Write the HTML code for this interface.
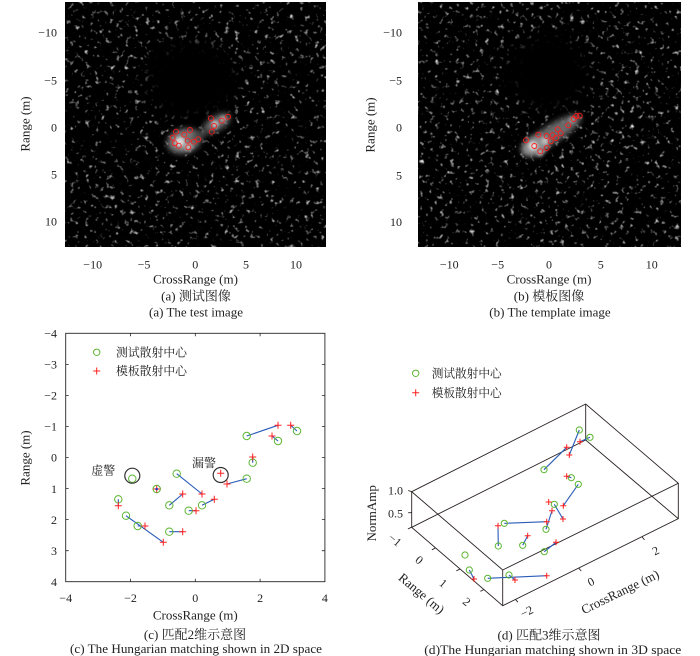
<!DOCTYPE html>
<html><head><meta charset="utf-8"><style>
html,body{margin:0;padding:0;background:#fff;}
svg{display:block;}
text{font-family:"Liberation Serif","Noto Serif CJK SC",serif;fill:#222;}
</style></head><body>
<svg width="700" height="656" viewBox="0 0 700 656" xmlns="http://www.w3.org/2000/svg">
<defs>
<filter id="nzA" x="0" y="0" width="1" height="1" color-interpolation-filters="sRGB">
<feTurbulence type="fractalNoise" baseFrequency="0.2" numOctaves="2" seed="7" result="t"/>
<feColorMatrix in="t" type="matrix" values="1 0 0 0 0 1 0 0 0 0 1 0 0 0 0 0 0 0 0 1" result="g"/>
<feComponentTransfer in="g"><feFuncR type="linear" slope="3" intercept="-1.82"/><feFuncG type="linear" slope="3" intercept="-1.82"/><feFuncB type="linear" slope="3" intercept="-1.82"/></feComponentTransfer>
</filter>
<filter id="nzB" x="0" y="0" width="1" height="1" color-interpolation-filters="sRGB">
<feTurbulence type="fractalNoise" baseFrequency="0.2" numOctaves="2" seed="21" result="t"/>
<feColorMatrix in="t" type="matrix" values="1 0 0 0 0 1 0 0 0 0 1 0 0 0 0 0 0 0 0 1" result="g"/>
<feComponentTransfer in="g"><feFuncR type="linear" slope="3" intercept="-1.82"/><feFuncG type="linear" slope="3" intercept="-1.82"/><feFuncB type="linear" slope="3" intercept="-1.82"/></feComponentTransfer>
</filter>
<filter id="b8" x="-50%" y="-50%" width="200%" height="200%"><feGaussianBlur stdDeviation="8"/></filter>
<filter id="b3" x="-50%" y="-50%" width="200%" height="200%"><feGaussianBlur stdDeviation="3"/></filter>
<filter id="b15" x="-50%" y="-50%" width="200%" height="200%"><feGaussianBlur stdDeviation="1.5"/></filter>
<clipPath id="cA"><rect x="65" y="2" width="261" height="245"/></clipPath>
<clipPath id="cB"><rect x="418" y="2" width="263" height="245"/></clipPath>
</defs>

<!-- ===== (a) test image ===== -->
<rect x="65" y="2" width="261" height="245" fill="#050505"/>
<rect x="65" y="2" width="261" height="245" filter="url(#nzA)"/>
<g clip-path="url(#cA)">
<ellipse cx="191" cy="80" rx="46" ry="42" fill="#050505" filter="url(#b8)"/>
<ellipse cx="184" cy="141" rx="17" ry="12" fill="#7a7a7a" filter="url(#b3)" transform="rotate(-15 184 141)"/>
<ellipse cx="217" cy="123" rx="15" ry="7" fill="#6a6a6a" filter="url(#b3)" transform="rotate(-30 217 123)"/>
<ellipse cx="200" cy="135" rx="10" ry="4" fill="#444" filter="url(#b3)" transform="rotate(-30 200 135)"/>
<circle cx="180" cy="142" r="5" fill="#d8d8d8" filter="url(#b15)"/>
<circle cx="188" cy="147" r="3.5" fill="#c0c0c0" filter="url(#b15)"/>
<circle cx="215" cy="124" r="3.5" fill="#c0c0c0" filter="url(#b15)"/>
<circle cx="223" cy="119" r="3" fill="#aaa" filter="url(#b15)"/>
</g>
<g fill="none" stroke="#ff1a1a" stroke-width="0.9">
<circle cx="176" cy="131.7" r="2.5"/><circle cx="172.7" cy="137.7" r="2.5"/><circle cx="174.7" cy="143.3" r="2.5"/>
<circle cx="178.7" cy="145.7" r="2.5"/><circle cx="184.3" cy="134.7" r="2.5"/><circle cx="190" cy="130" r="2.5"/>
<circle cx="187.7" cy="140.7" r="2.5"/><circle cx="188.3" cy="147.3" r="2.5"/><circle cx="194" cy="141.7" r="2.5"/>
<circle cx="198.3" cy="139.3" r="2.5"/><circle cx="211" cy="118.3" r="2.5"/><circle cx="214" cy="126" r="2.5"/>
<circle cx="211.7" cy="131.7" r="2.5"/><circle cx="221.7" cy="120.7" r="2.5"/><circle cx="228" cy="116.7" r="2.5"/>
</g>
<g font-size="12" text-anchor="end">
<text x="57" y="36.3">−10</text><text x="57" y="84.3">−5</text><text x="57" y="131.3">0</text><text x="57" y="178.3">5</text><text x="57" y="225.3">10</text>
</g>
<g font-size="12" text-anchor="middle">
<text x="92.7" y="268.5">−10</text><text x="144" y="268.5">−5</text><text x="195.3" y="268.5">0</text><text x="246" y="268.5">5</text><text x="296" y="268.5">10</text>
</g>
<text x="195.5" y="283.5" font-size="13" text-anchor="middle">CrossRange (m)</text>
<text x="25" y="124" font-size="13" text-anchor="middle" transform="rotate(-90 25 124)" dy="4.5">Range (m)</text>
<text x="196" y="300.5" font-size="13" text-anchor="middle">(a) 测试图像</text>
<text x="196" y="316.5" font-size="13" text-anchor="middle">(a) The test image</text>

<!-- ===== (b) template image ===== -->
<rect x="418" y="2" width="263" height="245" fill="#050505"/>
<rect x="418" y="2" width="263" height="245" filter="url(#nzB)"/>
<g clip-path="url(#cB)">
<ellipse cx="548" cy="72" rx="43" ry="40" fill="#050505" filter="url(#b8)"/>
<ellipse cx="552" cy="134" rx="34" ry="9" fill="#6a6a6a" filter="url(#b3)" transform="rotate(-32 552 134)"/>
<ellipse cx="535" cy="146" rx="14" ry="9" fill="#909090" filter="url(#b3)" transform="rotate(-25 535 146)"/>
<circle cx="533" cy="146" r="4.5" fill="#dedede" filter="url(#b15)"/>
<circle cx="545" cy="141" r="3.5" fill="#c0c0c0" filter="url(#b15)"/>
<circle cx="540" cy="153" r="3.5" fill="#aaa" filter="url(#b15)"/>
<circle cx="572" cy="120" r="3" fill="#999" filter="url(#b15)"/>
</g>
<g fill="none" stroke="#ff1a1a" stroke-width="0.9">
<circle cx="526" cy="140.3" r="2.5"/><circle cx="538.3" cy="134.7" r="2.5"/><circle cx="534.3" cy="146" r="2.5"/>
<circle cx="540.3" cy="151.3" r="2.5"/><circle cx="546.7" cy="148" r="2.5"/><circle cx="546.7" cy="136" r="2.5"/>
<circle cx="552.7" cy="135.3" r="2.5"/><circle cx="550.7" cy="141.3" r="2.5"/><circle cx="556" cy="138" r="2.5"/>
<circle cx="560.7" cy="133.3" r="2.5"/><circle cx="557.7" cy="129.3" r="2.5"/><circle cx="568.3" cy="125.3" r="2.5"/>
<circle cx="573.7" cy="119" r="2.5"/><circle cx="576.3" cy="116" r="2.5"/><circle cx="579.7" cy="115.7" r="2.5"/>
</g>
<g font-size="12" text-anchor="end">
<text x="402" y="36.6">−10</text><text x="402" y="84.3">−5</text><text x="402" y="131.6">0</text><text x="402" y="179.3">5</text><text x="402" y="226">10</text>
</g>
<g font-size="12" text-anchor="middle">
<text x="449.3" y="268.5">−10</text><text x="497.7" y="268.5">−5</text><text x="549" y="268.5">0</text><text x="600.7" y="268.5">5</text><text x="651.7" y="268.5">10</text>
</g>
<text x="549" y="283.5" font-size="13" text-anchor="middle">CrossRange (m)</text>
<text x="370" y="125" font-size="13" text-anchor="middle" transform="rotate(-90 370 125)" dy="4.5">Range (m)</text>
<text x="549" y="300.5" font-size="13" text-anchor="middle">(b) 模板图像</text>
<text x="550" y="316.5" font-size="13" text-anchor="middle">(b) The template image</text>

<!-- ===== (c) 2D matching ===== -->
<rect x="65.7" y="333.3" width="259.2" height="248.4" fill="#fff" stroke="#262626" stroke-width="0.9"/>
<g stroke="#262626" stroke-width="0.8">
<path d="M65.7 364.4h3M65.7 395.4h3M65.7 426.5h3M65.7 457.5h3M65.7 488.6h3M65.7 519.6h3M65.7 550.7h3"/>
<path d="M324.9 364.4h-3M324.9 395.4h-3M324.9 426.5h-3M324.9 457.5h-3M324.9 488.6h-3M324.9 519.6h-3M324.9 550.7h-3"/>
<path d="M130.5 581.7v-3M195.3 581.7v-3M260.1 581.7v-3M130.5 333.3v3M195.3 333.3v3M260.1 333.3v3"/>
</g>
<g font-size="12" text-anchor="end">
<text x="57" y="337.5">−4</text><text x="57" y="368.6">−3</text><text x="57" y="399.6">−2</text><text x="57" y="430.7">−1</text>
<text x="57" y="461.7">0</text><text x="57" y="492.8">1</text><text x="57" y="523.8">2</text><text x="57" y="554.9">3</text><text x="57" y="585.9">4</text>
</g>
<g font-size="12" text-anchor="middle">
<text x="65.7" y="602">−4</text><text x="130.5" y="602">−2</text><text x="195.3" y="602">0</text><text x="260.1" y="602">2</text><text x="324.9" y="602">4</text>
</g>
<text x="195.3" y="619.5" font-size="13" text-anchor="middle">CrossRange (m)</text>
<text x="25" y="458" font-size="13" text-anchor="middle" transform="rotate(-90 25 458)" dy="4.5">Range (m)</text>
<text x="195" y="638.8" font-size="13" text-anchor="middle">(c) 匹配2维示意图</text>
<text x="196" y="652.8" font-size="13" text-anchor="middle" textLength="252" lengthAdjust="spacingAndGlyphs">(c) The Hungarian matching shown in 2D space</text>
<circle cx="96.7" cy="352.3" r="3.2" fill="none" stroke="#5cb531" stroke-width="1"/>
<path d="M93.2 371h7M96.7 367.5v7" stroke="#ff2020" stroke-width="1"/>
<text x="116" y="356.5" font-size="12" textLength="71" lengthAdjust="spacingAndGlyphs">测试散射中心</text>
<text x="116" y="375.2" font-size="12" textLength="71" lengthAdjust="spacingAndGlyphs">模板散射中心</text>
<g stroke="#2a5cb8" stroke-width="1.1">
<path d="M118.3 499.3L118.3 505.7M126 515.7L163.3 542.3M137.7 526L145 526M176.7 473.7L202 494M169.3 505.3L182.7 494M169.3 531.7L182.7 531.7M188.7 510.7L196 510.7M202 505.3L214.3 499.3M246.7 478.7L227 484M252.7 462.7L252.7 457M246.7 436L278 425.3M278 441L272 436M297 431L290.7 425.3"/>
</g>
<g fill="none" stroke="#5cb531" stroke-width="1">
<circle cx="118.3" cy="499.3" r="3.7"/><circle cx="132.3" cy="478.7" r="3.7"/><circle cx="126" cy="515.7" r="3.7"/>
<circle cx="137.7" cy="526" r="3.7"/><circle cx="156.7" cy="489" r="3.7"/><circle cx="176.7" cy="473.7" r="3.7"/>
<circle cx="169.3" cy="505.3" r="3.7"/><circle cx="169.3" cy="531.7" r="3.7"/><circle cx="188.7" cy="510.7" r="3.7"/>
<circle cx="202" cy="505.3" r="3.7"/><circle cx="246.7" cy="478.7" r="3.7"/><circle cx="252.7" cy="462.7" r="3.7"/>
<circle cx="246.7" cy="436" r="3.7"/><circle cx="278" cy="441" r="3.7"/><circle cx="297" cy="431" r="3.7"/>
</g>
<g stroke="#ff2020" stroke-width="1">
<path d="M114.8 505.7h7M118.3 502.2v7"/><path d="M141.5 526h7M145 522.5v7"/><path d="M159.8 542.3h7M163.3 538.8v7"/>
<path d="M153.2 489h7M156.7 485.5v7"/><path d="M179.2 494h7M182.7 490.5v7"/><path d="M198.5 494h7M202 490.5v7"/>
<path d="M179.2 531.7h7M182.7 528.2v7"/><path d="M192.5 510.7h7M196 507.2v7"/><path d="M210.8 499.3h7M214.3 495.8v7"/>
<path d="M217.2 473.3h7M220.7 469.8v7"/><path d="M223.5 484h7M227 480.5v7"/><path d="M249.2 457h7M252.7 453.5v7"/>
<path d="M268.5 436h7M272 432.5v7"/><path d="M274.5 425.3h7M278 421.8v7"/><path d="M287.2 425.3h7M290.7 421.8v7"/>
</g>
<circle cx="156.7" cy="489" r="1.3" fill="#2a3cb8"/>
<circle cx="132.3" cy="475.7" r="7.5" fill="none" stroke="#333" stroke-width="1.2"/>
<circle cx="220.7" cy="475" r="7.5" fill="none" stroke="#333" stroke-width="1.2"/>
<text x="103.3" y="474.3" font-size="12" text-anchor="middle">虚警</text>
<text x="204" y="467" font-size="12" text-anchor="middle">漏警</text>

<!-- ===== (d) 3D matching ===== -->
<g stroke="#2a2222" stroke-width="0.9" fill="none">
<path d="M411.7 491.7L585.7 404L678.3 483.3L502.7 570Z"/>
<path d="M411.7 527.3L585.7 440L678.3 518.7L502.7 605.7Z"/>
<path d="M411.7 491.7V527.3M585.7 404V440M678.3 483.3V518.7M502.7 570V605.7"/>
<path d="M411.7 491.7l-3.5 -1.2M411.7 512.7h-3.5"/>
<path d="M411.5 527.2l-3.6 1.8M435.5 548l-3.6 1.8M460 569l-3.6 1.8M484 589.5l-3.6 1.8"/>
<path d="M515.5 599.4l2.4 2.8M578.8 568.2l2.4 2.8M642.1 537l2.4 2.8"/>
</g>
<g font-size="12">
<text x="403" y="494.5" text-anchor="end">1.0</text>
<text x="403" y="517.5" text-anchor="end">0.5</text>
<g text-anchor="middle">
<text x="395" y="540" dy="4" transform="rotate(40 395 540)">−1</text>
<text x="419.3" y="560" dy="4" transform="rotate(40 419.3 560)">0</text>
<text x="443.3" y="583.3" dy="4" transform="rotate(40 443.3 583.3)">1</text>
<text x="466.7" y="601.7" dy="4" transform="rotate(40 466.7 601.7)">2</text>
<text x="526.7" y="611.7" dy="4" transform="rotate(-26 526.7 611.7)">−2</text>
<text x="591" y="581.7" dy="4" transform="rotate(-26 591 581.7)">0</text>
<text x="655.7" y="550.7" dy="4" transform="rotate(-26 655.7 550.7)">2</text>
</g>
</g>
<text x="421.7" y="593.3" dy="4.5" font-size="13" text-anchor="middle" transform="rotate(40 421.7 593.3)">Range (m)</text>
<text x="620" y="591.7" dy="4.5" font-size="13" text-anchor="middle" transform="rotate(-26 620 591.7)">CrossRange (m)</text>
<text x="371.5" y="513.3" dy="4.5" font-size="13" text-anchor="middle" transform="rotate(-90 371.5 513.3)">NormAmp</text>
<circle cx="415.7" cy="373.3" r="3.2" fill="none" stroke="#5cb531" stroke-width="1"/>
<path d="M412.2 392.7h7M415.7 389.2v7" stroke="#ff2020" stroke-width="1"/>
<text x="431.7" y="377.5" font-size="12" textLength="70" lengthAdjust="spacingAndGlyphs">测试散射中心</text>
<text x="431.7" y="396.9" font-size="12" textLength="70" lengthAdjust="spacingAndGlyphs">模板散射中心</text>
<g stroke="#2a5cb8" stroke-width="1.1">
<path d="M579.3 430L569.3 455M590 437.3L580 441.7M544 469.7L566.7 447.3M571.3 477.7L566.7 476.3M578.3 484.3L563.3 505.7M554.3 504.3L563 519M546 529.3L552 510.7M504.3 523.3L546.7 521.7M498.3 546L498 525.7M522.7 545.3L527.7 535.7M544.3 551.7L556 542.3M469.3 570L474 579M487.7 578.3L546.7 575.7M509 575L515 580"/>
</g>
<g fill="none" stroke="#5cb531" stroke-width="1">
<circle cx="579.3" cy="430" r="3.1"/><circle cx="590" cy="437.3" r="3.1"/><circle cx="544" cy="469.7" r="3.1"/>
<circle cx="571.3" cy="477.7" r="3.1"/><circle cx="578.3" cy="484.3" r="3.1"/><circle cx="554.3" cy="504.3" r="3.1"/>
<circle cx="504.3" cy="523.3" r="3.1"/><circle cx="546" cy="529.3" r="3.1"/><circle cx="498.3" cy="546" r="3.1"/>
<circle cx="522.7" cy="545.3" r="3.1"/><circle cx="544.3" cy="551.7" r="3.1"/><circle cx="465" cy="555" r="3.1"/>
<circle cx="469.3" cy="570" r="3.1"/><circle cx="487.7" cy="578.3" r="3.1"/><circle cx="509" cy="575" r="3.1"/>
</g>
<g stroke="#ff2020" stroke-width="1">
<path d="M577 441.7h6M580 438.7v6"/><path d="M563.7 447.3h6M566.7 444.3v6"/><path d="M566.3 455h6M569.3 452v6"/>
<path d="M563.7 476.3h6M566.7 473.3v6"/><path d="M545.7 502h6M548.7 499v6"/><path d="M560.3 505.7h6M563.3 502.7v6"/>
<path d="M549 510.7h6M552 507.7v6"/><path d="M560 519h6M563 516v6"/><path d="M543.7 521.7h6M546.7 518.7v6"/>
<path d="M495 525.7h6M498 522.7v6"/><path d="M524.7 535.7h6M527.7 532.7v6"/><path d="M553 542.3h6M556 539.3v6"/>
<path d="M471 579h6M474 576v6"/><path d="M512 580h6M515 577v6"/><path d="M543.7 575.7h6M546.7 572.7v6"/>
</g>
<text x="549" y="639.5" font-size="13" text-anchor="middle">(d) 匹配3维示意图</text>
<text x="552.8" y="653.8" font-size="13" text-anchor="middle" textLength="257" lengthAdjust="spacingAndGlyphs">(d)The Hungarian matching shown in 3D space</text>
</svg>
</body></html>
